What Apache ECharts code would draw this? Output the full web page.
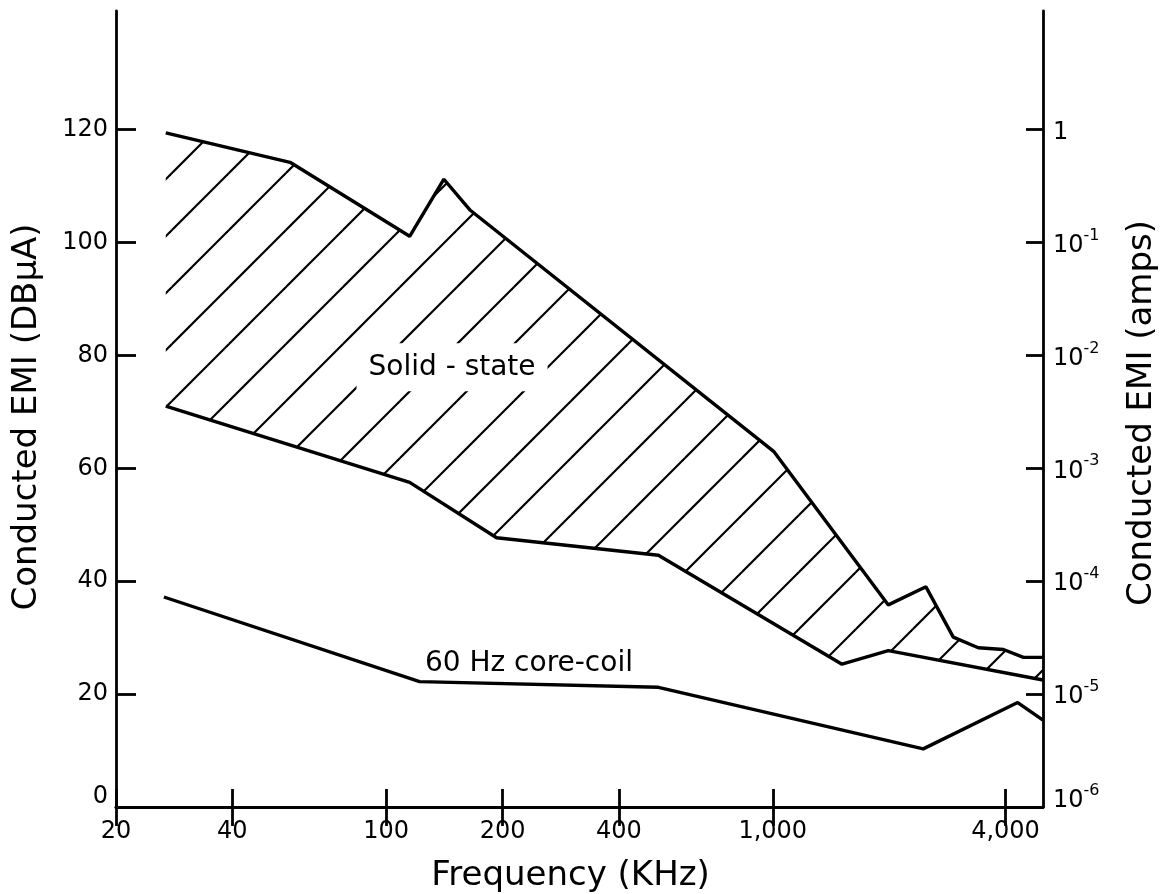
<!DOCTYPE html>
<html><head><meta charset="utf-8">
<script src="https://cdn.jsdelivr.net/npm/echarts@6/dist/echarts.min.js"></script>
<style>html,body{margin:0;padding:0;background:#fff}#c{width:1165px;height:894px}</style>
</head><body><div id="c"></div>
<script>
// ---- data (frequency in kHz, level in dB microamp) ----
const xTicks = [20, 40, 100, 200, 400, 1000, 4000];
const xTickLabels = ['20', '40', '100', '200', '400', '1,000', '4,000'];
const yTicks = [0, 20, 40, 60, 80, 100, 120];
const yLeftLabels = ['0', '20', '40', '60', '80', '100', '120'];
const yRightExp = ['-6', '-5', '-4', '-3', '-2', '-1', null]; // null -> "1"

const upperF  = [26.9, 56.4, 115, 141, 165, 1005, 1990, 2490, 2930, 3400, 3950, 4450, 5000];
const upperDb = [119.4, 114.2, 101.1, 111.2, 105.7, 63.0, 35.8, 39.0, 30.1, 28.2, 27.9, 26.5, 26.5];

const lowerF  = [26.9, 115, 193, 506, 1510, 1990, 5000];
const lowerDb = [71.0, 57.5, 47.7, 44.6, 25.3, 27.7, 22.5];

const coreF  = [26.6, 122, 506, 2450, 4300, 5000];
const coreDb = [37.2, 22.2, 21.2, 10.3, 18.5, 15.4];

const solidLabel = { text: 'Solid - state', f: 148, db: 77.9 };
const coreLabel = { text: '60 Hz core-coil', f: 234, db: 25.3 };

// ---- hatch pattern ----
function makeHatch(spacing, offset, lw) {
  const c = document.createElement('canvas');
  c.width = spacing; c.height = spacing;
  const ctx = c.getContext('2d');
  ctx.strokeStyle = '#000'; ctx.lineWidth = lw; ctx.lineCap = 'butt';
  for (let k = -1; k <= 2; k++) {
    const s = offset + k * spacing; // line x + y = s
    ctx.beginPath();
    ctx.moveTo(s + spacing, -spacing);
    ctx.lineTo(s - 2 * spacing, 2 * spacing);
    ctx.stroke();
  }
  return c;
}
const hatch = { type: 'pattern', image: makeHatch(57, 3, 2.2), repeat: 'repeat' };

const FONT = 'DejaVu Sans';
const chart = echarts.init(document.getElementById('c'), null, { renderer: 'canvas' });
const axisLine = { show: true, lineStyle: { color: '#000', width: 2.8 } };
const tickStyle = { color: '#000', width: 2.8 };

const pairs = (xs, ys) => xs.map((x, i) => [x, ys[i]]);

chart.setOption({
  backgroundColor: '#fff',
  animation: false,
  grid: { left: 116, right: 122, top: 11, bottom: 87, containLabel: false, outerBoundsMode: 'none' },
  xAxis: [
    {
      type: 'log', logBase: 10, min: 20, max: 5000, position: 'bottom',
      name: 'Frequency (KHz)', nameLocation: 'middle', nameGap: 52,
      nameTextStyle: { fontFamily: FONT, fontSize: 34, color: '#000', padding: [0, 18, 0, 0] },
      axisLine: axisLine,
      axisTick: { show: true, inside: true, length: 18, lineStyle: tickStyle, customValues: xTicks },
      axisLabel: {
        show: true, margin: 13, fontFamily: FONT, fontSize: 24, color: '#000',
        customValues: xTicks,
        formatter: v => { const i = xTicks.findIndex(t => Math.abs(t - v) / t < 1e-6); return i >= 0 ? xTickLabels[i] : ''; }
      },
      splitLine: { show: false }, minorTick: { show: false }
    },
    {
      type: 'log', logBase: 10, min: 20, max: 5000, position: 'top',
      axisLine: axisLine,
      axisTick: { show: true, inside: true, length: 19, lineStyle: tickStyle, customValues: xTicks },
      axisLabel: { show: false },
      splitLine: { show: false }
    }
  ],
  yAxis: [
    {
      type: 'value', min: 0, max: 141, position: 'left',
      name: 'Conducted EMI (DBμA)', nameLocation: 'middle', nameGap: 72, nameRotate: 90,
      nameTextStyle: { fontFamily: FONT, fontSize: 34, color: '#000', padding: [0, 16, 0, 0] },
      axisLine: axisLine,
      axisTick: { show: true, inside: true, length: 20, lineStyle: tickStyle, customValues: yTicks },
      axisLabel: {
        show: true, margin: 8, fontFamily: FONT, fontSize: 24, color: '#000',
        customValues: yTicks,
        formatter: v => { const i = yTicks.indexOf(Math.round(v)); if (i < 0) return ''; return i === 0 ? '{n|' + yLeftLabels[i] + '}\n{g| }' : yLeftLabels[i]; },
        rich: {
          n: { fontFamily: FONT, fontSize: 24, color: '#000', lineHeight: 28 },
          g: { fontSize: 10, lineHeight: 20 }
        }
      },
      splitLine: { show: false }
    },
    {
      type: 'value', min: 0, max: 141, position: 'right',
      name: 'Conducted EMI (amps)', nameLocation: 'middle', nameGap: 82, nameRotate: 90,
      nameTextStyle: { fontFamily: FONT, fontSize: 34, color: '#000', padding: [0, 8, 0, 0] },
      axisLine: axisLine,
      axisTick: { show: true, inside: true, length: 17, lineStyle: tickStyle, customValues: yTicks },
      axisLabel: {
        show: true, margin: 10, fontFamily: FONT, fontSize: 24, color: '#000',
        customValues: yTicks,
        formatter: v => {
          const i = yTicks.indexOf(Math.round(v)); if (i < 0) return '';
          if (yRightExp[i] === null) return '{b|1}';
          const s = '{b|10}{s|' + yRightExp[i] + '}';
          return i === 0 ? s + '\n{g| }' : s;
        },
        rich: {
          b: { fontFamily: FONT, fontSize: 24, color: '#000', lineHeight: 30, verticalAlign: 'bottom' },
          s: { fontFamily: FONT, fontSize: 16, color: '#000', lineHeight: 30, verticalAlign: 'top' },
          g: { fontSize: 10, lineHeight: 18 }
        }
      },
      splitLine: { show: false }
    }
  ],
  series: [
    {
      type: 'custom', coordinateSystem: 'cartesian2d', xAxisIndex: 0, yAxisIndex: 0,
      data: [[upperF[0], upperDb[0]]], clip: true, silent: true, z: 1,
      renderItem: function (params, api) {
        const pts = [];
        for (let i = 0; i < upperF.length; i++) pts.push(api.coord([upperF[i], upperDb[i]]));
        for (let i = lowerF.length - 1; i >= 0; i--) pts.push(api.coord([lowerF[i], lowerDb[i]]));
        return { type: 'polygon', shape: { points: pts }, style: { fill: hatch, stroke: null } };
      }
    },
    {
      type: 'scatter', data: [[solidLabel.f, solidLabel.db]], symbolSize: 0, z: 3, silent: true,
      itemStyle: { opacity: 1 },
      label: { show: true, position: 'inside', formatter: solidLabel.text, fontFamily: FONT, fontSize: 28,
        color: '#000', opacity: 1, backgroundColor: '#fff', padding: [10, 12] }
    },
    {
      type: 'scatter', data: [[coreLabel.f, coreLabel.db]], symbolSize: 0, z: 3, silent: true,
      itemStyle: { opacity: 1 },
      label: { show: true, position: 'inside', formatter: coreLabel.text, fontFamily: FONT, fontSize: 28, color: '#000', opacity: 1 }
    },
    { type: 'line', data: pairs(upperF, upperDb), symbol: 'none', z: 4, lineStyle: { color: '#000', width: 3.4 }, silent: true },
    { type: 'line', data: pairs(lowerF, lowerDb), symbol: 'none', z: 4, lineStyle: { color: '#000', width: 3.4 }, silent: true },
    { type: 'line', data: pairs(coreF, coreDb), symbol: 'none', z: 4, lineStyle: { color: '#000', width: 3.4 }, silent: true }
  ]
});
</script></body></html>
